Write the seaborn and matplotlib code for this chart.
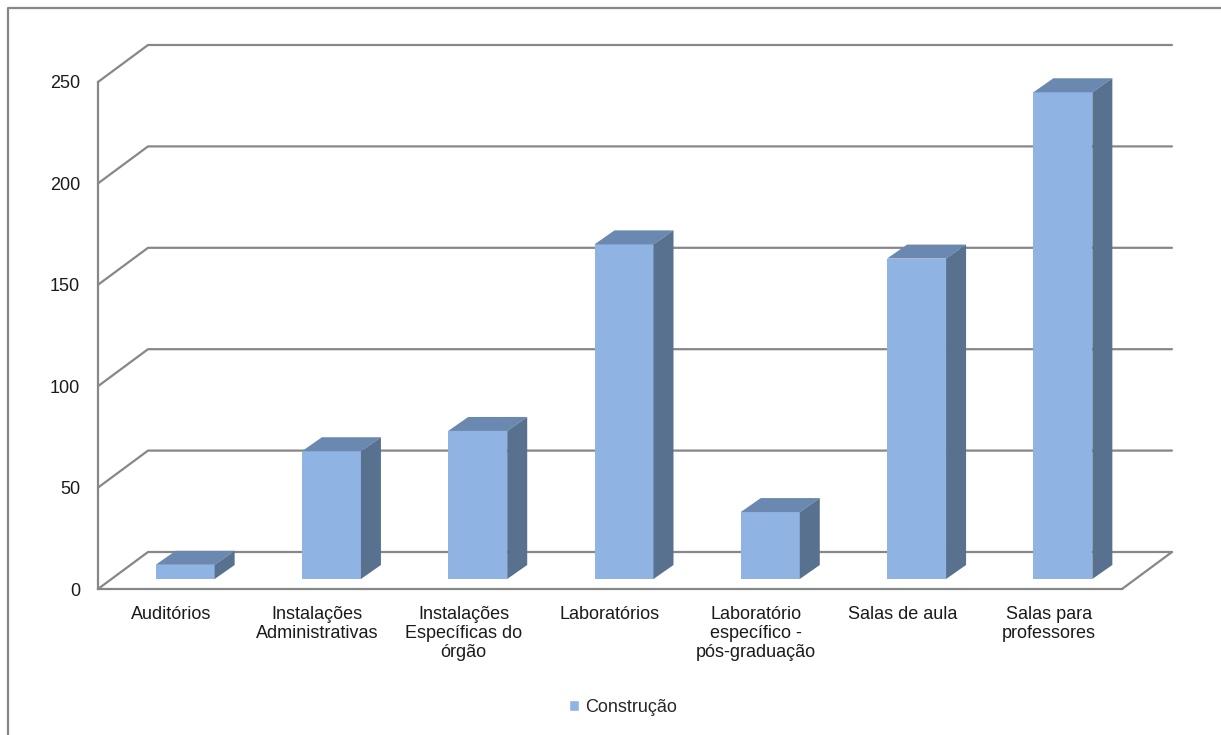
import numpy as np
import pandas as pd
import matplotlib.pyplot as plt
import seaborn as sns
from matplotlib.patches import Polygon, Patch
from matplotlib.lines import Line2D

# chart data
categorias = ["Auditórios", "Instalações\nAdministrativas", "Instalações\nEspecíficas do\nórgão",
              "Laboratórios", "Laboratório\nespecífico -\npós-graduação", "Salas de aula",
              "Salas para\nprofessores"]
valores = [7, 63, 73, 165, 33, 158, 240]
serie = "Construção"
yticks = [0, 50, 100, 150, 200, 250]

sns.set_style("white")
plt.rcParams["font.family"] = ["Liberation Sans", "DejaVu Sans"]

W, H = 1221, 735
fig = plt.figure(figsize=(W / 100, H / 100), dpi=100)

grey = "#878787"
front_c, top_c, side_c = "#8FB3E3", "#6B88B0", "#58718F"
fs = 13

# front plane of the chart (axis lines + ticks)
x0, y0, wpx, hpx = 98, 589, 1024, 507
ax = fig.add_axes([x0 / W, (H - y0) / H, wpx / W, hpx / H])
ncat = len(categorias)
ax.set_xlim(-0.5, ncat - 0.5)
ax.set_ylim(0, 250)
px_x = wpx / ncat
px_y = hpx / 250

# depth of the back wall, in data units
dxw, dyw = 50 / px_x, 37 / px_y
for v in yticks:
    ax.plot([-0.5, -0.5 + dxw, ncat - 0.5 + dxw], [v, v + dyw, v + dyw],
            color=grey, lw=1.6, clip_on=False, zorder=1)
ax.plot([ncat - 0.5, ncat - 0.5 + dxw], [0, dyw], color=grey, lw=1.6, clip_on=False, zorder=1)

for s in ["top", "right"]:
    ax.spines[s].set_visible(False)
for s in ["left", "bottom"]:
    ax.spines[s].set_color(grey)
    ax.spines[s].set_linewidth(1.6)

ax.set_yticks(yticks)
ax.set_yticklabels([str(v) for v in yticks], fontsize=fs, color="#1a1a1a")
ax.set_xticks(np.arange(-0.5, ncat, 1.0))
ax.set_xticklabels([])
ax.set_xticks(np.arange(ncat), minor=True)
ax.set_xticklabels(categorias, minor=True, fontsize=fs, color="#1a1a1a", linespacing=1.17, va="top")
ax.tick_params(axis="both", which="major", direction="out", length=5, width=1.6, color=grey)
ax.tick_params(axis="y", pad=8)
ax.tick_params(axis="x", which="minor", length=0, pad=12)
ax.patch.set_alpha(0)

# plane where the bar fronts sit
ax2 = fig.add_axes([(x0 + 14) / W, (H - 579) / H, wpx / W, hpx / H])
df = pd.DataFrame({"categoria": categorias, "valor": valores, "serie": serie})
sns.barplot(data=df, x="categoria", y="valor", hue="serie", palette=[front_c],
            width=59 / px_x, saturation=1, linewidth=0, ax=ax2, zorder=3)
if ax2.get_legend() is not None:
    ax2.get_legend().remove()
ax2.set_xlim(-0.5, ncat - 0.5)
ax2.set_ylim(0, 250)
ax2.axis("off")

# add top and side faces for the 3d look
ddx, ddy = 20 / px_x, 14 / px_y
for p in ax2.patches:
    bx, bw, bh = p.get_x(), p.get_width(), p.get_height()
    top = Polygon([(bx, bh), (bx + bw, bh), (bx + bw + ddx, bh + ddy), (bx + ddx, bh + ddy)],
                  closed=True, facecolor=top_c, edgecolor="none", clip_on=False, zorder=4)
    side = Polygon([(bx + bw, 0), (bx + bw, bh), (bx + bw + ddx, bh + ddy), (bx + bw + ddx, ddy)],
                   closed=True, facecolor=side_c, edgecolor="none", clip_on=False, zorder=4)
    ax2.add_patch(top)
    ax2.add_patch(side)

fig.legend([Patch(facecolor=front_c)], [serie], loc="center", bbox_to_anchor=(623 / W, (H - 707) / H),
           frameon=False, fontsize=fs, handlelength=0.55, handleheight=0.55, handletextpad=0.3)

# outer chart border (top and left visible)
fig.add_artist(Line2D([8 / W, 8 / W, 1.0], [0.0, (H - 8) / H, (H - 8) / H], color=grey, lw=1.6))

fig.savefig("out.png", dpi=100)
